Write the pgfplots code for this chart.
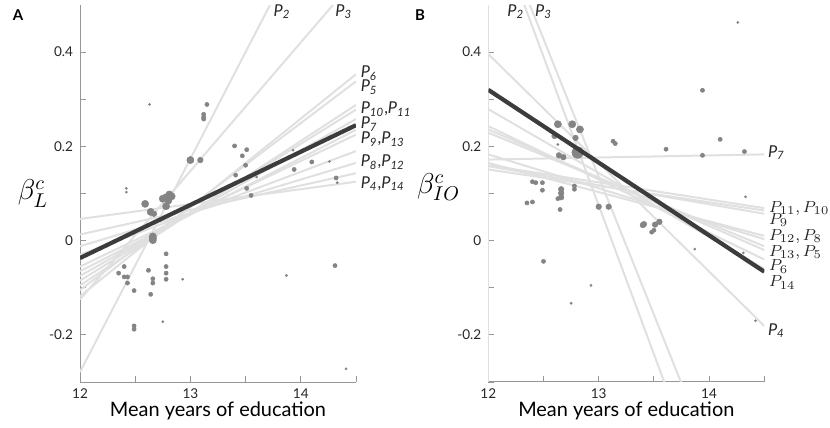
\documentclass[border=0pt]{standalone}
\usepackage{fontspec}
\setmainfont{Lato}
\setsansfont{Lato}
\usepackage{pgfplots}
\pgfplotsset{compat=1.18}
\definecolor{reglight}{RGB}{224,224,224}
\definecolor{regdark}{RGB}{60,60,60}
\definecolor{dotgray}{RGB}{132,132,132}
\definecolor{axgray}{RGB}{150,150,150}
\newcommand{\PL}[1]{\textit{P}\textsubscript{\textit{#1}}}
\tikzset{
  gl/.style={draw=reglight, line width=1bp},
  bl/.style={draw=regdark, line width=2.1bp},
  lab/.style={anchor=west, inner sep=0pt, font=\fontsize{8.2}{9}\selectfont, text=black!85},
}
\pgfplotsset{
  myaxis/.style={
    scale only axis, width=138bp, height=188.5bp,
    xmin=12, xmax=14.5, ymin=-0.3, ymax=0.5,
    axis x line*=bottom, axis y line*=left,
    axis line style={draw=axgray, line width=0.5bp, -},
    xtick={12,13,14}, xticklabels={12,13,14},
    minor xtick={12.5,13.5,14.5},
    ytick={-0.2,0,0.2,0.4}, yticklabels={-0.2,0,0.2,0.4},
    minor ytick={-0.3,-0.1,0.1,0.3},
    tick align=inside,
    major tick length=3bp, minor tick length=3bp,
    every tick/.style={draw=axgray, line width=0.45bp},
    minor tick style={draw=axgray, line width=0.45bp},
    ticklabel style={font=\fontsize{6.8}{8}\selectfont, text=black!85},
    /pgf/number format/assume math mode=true,
    clip mode=individual,
    every axis x label/.style={at={(rel axis cs:0.5,0)}, anchor=center, yshift=-14.5bp, font=\fontsize{10}{12}\selectfont},
    xlabel={Mean years of education},
  },
  dt/.style={only marks, mark=*, color=dotgray, mark options={solid, draw=dotgray, fill=dotgray, line width=0.25bp}},
}
\begin{document}
\begin{tikzpicture}
\useasboundingbox (0,0) rectangle (415bp,214bp);
\node[font=\bfseries\fontsize{7.5}{8}\selectfont] at (9bp,206.5bp) {A};
\node[font=\bfseries\fontsize{7.5}{8}\selectfont] at (210bp,206.5bp) {B};
% ---------------- Panel A ----------------
\begin{axis}[myaxis, at={(40bp,23bp)}, anchor=south west,
  every axis y label/.style={at={(rel axis cs:-0.17,0.50)}, anchor=center, font=\fontsize{14}{16}\selectfont},
  ylabel={$\beta^c_L$}]
% regression lines of the 13 subsamples
\addplot[gl, no marks] coordinates {(12,-0.279) (14.5,0.853)}; % P2
\addplot[gl, no marks] coordinates {(12,-0.125) (14.5,0.557)}; % P3
\addplot[gl, no marks] coordinates {(12,-0.118) (14.5,0.353)}; % P6
\addplot[gl, no marks] coordinates {(12,-0.105) (14.5,0.338)}; % P5
\addplot[gl, no marks] coordinates {(12,-0.095) (14.5,0.288)}; % P10
\addplot[gl, no marks] coordinates {(12,-0.085) (14.5,0.278)}; % P11
\addplot[gl, no marks] coordinates {(12,-0.075) (14.5,0.258)}; % P7
\addplot[gl, no marks] coordinates {(12,-0.065) (14.5,0.235)}; % P9
\addplot[gl, no marks] coordinates {(12,-0.055) (14.5,0.225)}; % P13
\addplot[gl, no marks] coordinates {(12,-0.030) (14.5,0.190)}; % P8
\addplot[gl, no marks] coordinates {(12,-0.012) (14.5,0.165)}; % P12
\addplot[gl, no marks] coordinates {(12,0.013) (14.5,0.143)}; % P4
\addplot[gl, no marks] coordinates {(12,0.046) (14.5,0.125)}; % P14
% dots
\addplot[dt, mark size=0.55bp] coordinates {(12.63,0.289) (12.42,0.111) (12.42,0.103) (13.60,0.135) (13.93,0.192) (14.26,0.168) (14.33,0.123) (12.93,-0.082) (12.75,-0.172) (13.87,-0.074) (14.41,-0.272)};
\addplot[dt, mark size=1.05bp] coordinates {(13.15,0.289) (13.12,0.268) (13.12,0.262) (13.12,0.258) (13.40,0.201) (13.51,0.193) (13.47,0.180) (13.50,0.160) (13.41,0.139) (13.51,0.111) (13.55,0.096) (13.94,0.151) (14.10,0.167) (14.32,0.133) (12.78,-0.028) (12.78,-0.055) (12.78,-0.069) (12.78,-0.082) (12.62,-0.063) (12.66,-0.081) (12.66,-0.090) (12.64,-0.114) (12.40,-0.055) (12.35,-0.069) (12.40,-0.077) (12.43,-0.077) (12.43,-0.090) (12.49,-0.106) (12.49,-0.181) (12.49,-0.188) (14.31,-0.053)};
\addplot[dt, mark size=1.4bp] coordinates {(12.67,0.057) (13.09,0.171)};
\addplot[dt, mark size=1.8bp] coordinates {(13.0,0.171) (12.59,0.078) (12.64,0.061) (12.66,0.009) (12.66,0.001) (12.66,0.005) (12.75,0.089) (12.78,0.092) (12.83,0.094) (12.78,0.073) (12.80,0.085) (12.81,0.098)};
% pooled regression
\addplot[bl, no marks] coordinates {(12,-0.037) (14.5,0.245)};
% labels
\node[lab] at (axis cs:13.75,0.486) {\PL{2}};
\node[lab] at (axis cs:14.31,0.486) {\PL{3}};
\node[lab] at (axis cs:14.54,0.356) {\PL{6}};
\node[lab] at (axis cs:14.54,0.326) {\PL{5}};
\node[lab] at (axis cs:14.54,0.279) {\PL{10},\PL{11}};
\node[lab] at (axis cs:14.54,0.247) {\PL{7}};
\node[lab] at (axis cs:14.54,0.215) {\PL{9},\PL{13}};
\node[lab] at (axis cs:14.54,0.166) {\PL{8},\PL{12}};
\node[lab] at (axis cs:14.54,0.121) {\PL{4},\PL{14}};
\end{axis}
% ---------------- Panel B ----------------
\begin{axis}[myaxis, at={(244.15bp,23bp)}, anchor=south west,
  y axis line style={draw=reglight, line width=0.8bp},
  every axis y label/.style={at={(rel axis cs:-0.18,0.517)}, anchor=center, font=\fontsize{14}{16}\selectfont},
  ylabel={$\beta^c_{IO}$}]
\addplot[gl, no marks] coordinates {(12,0.706) (14.5,-0.872)}; % P2
\addplot[gl, no marks] coordinates {(12,0.7205) (14.5,-0.742)}; % P3
\addplot[gl, no marks] coordinates {(12,0.396) (14.5,-0.181)}; % P4
\addplot[gl, no marks] coordinates {(12,0.279) (14.5,-0.060)}; % P14
\addplot[gl, no marks] coordinates {(12,0.243) (14.5,-0.040)}; % P6
\addplot[gl, no marks] coordinates {(12,0.236) (14.5,-0.020)}; % P5
\addplot[gl, no marks] coordinates {(12,0.229) (14.5,-0.012)}; % P13
\addplot[gl, no marks] coordinates {(12,0.183) (14.5,0.003)}; % P8
\addplot[gl, no marks] coordinates {(12,0.165) (14.5,0.010)}; % P12
\addplot[gl, no marks] coordinates {(12,0.158) (14.5,0.057)}; % P9
\addplot[gl, no marks] coordinates {(12,0.151) (14.5,0.064)}; % P10
\addplot[gl, no marks] coordinates {(12,0.160) (14.5,0.069)}; % P11
\addplot[gl, no marks] coordinates {(12,0.172) (14.5,0.183)}; % P7
% dots
\addplot[dt, mark size=0.55bp] coordinates {(14.26,0.463) (12.63,0.204) (14.33,0.093) (13.87,-0.018) (14.31,-0.026) (12.93,-0.095) (12.75,-0.133) (14.42,-0.170)};
\addplot[dt, mark size=1.05bp] coordinates {(13.94,0.319) (13.13,0.211) (13.15,0.206) (13.61,0.194) (14.10,0.215) (13.94,0.181) (14.32,0.189) (12.40,0.125) (12.43,0.123) (12.49,0.123) (12.49,0.107) (12.78,0.116) (12.78,0.109) (12.63,0.089) (12.35,0.080) (12.40,0.082) (12.65,0.066) (12.50,-0.044) (13.48,0.018) (13.50,0.022)};
\addplot[dt, mark size=1.4bp] coordinates {(12.60,0.222) (12.79,0.218) (12.64,0.181) (12.68,0.177) (12.66,0.109) (12.66,0.101) (12.66,0.092) (13.0,0.072) (13.09,0.072) (13.41,0.035) (13.40,0.033) (13.51,0.034) (13.55,0.040)};
\addplot[dt, mark size=1.8bp] coordinates {(12.63,0.247) (12.76,0.247) (12.83,0.236)};
\addplot[dt, mark size=2.9bp] coordinates {(12.81,0.187)};
% pooled regression
\addplot[bl, no marks] coordinates {(12,0.32) (14.5,-0.066)};
% labels
\node[lab] at (axis cs:12.17,0.486) {\PL{2}};
\node[lab] at (axis cs:12.42,0.486) {\PL{3}};
\node[lab] at (axis cs:14.53,0.187) {\PL{7}};
\node[lab] at (axis cs:14.54,0.069) {$P_{11}, P_{10}$};
\node[lab] at (axis cs:14.54,0.043) {$P_{9}$};
\node[lab] at (axis cs:14.54,0.009) {$P_{12}, P_{8}$};
\node[lab] at (axis cs:14.54,-0.025) {$P_{13}, P_{5}$};
\node[lab] at (axis cs:14.54,-0.055) {$P_{6}$};
\node[lab] at (axis cs:14.54,-0.089) {$P_{14}$};
\node[lab] at (axis cs:14.53,-0.191) {\PL{4}};
\end{axis}
\end{tikzpicture}
\end{document}
